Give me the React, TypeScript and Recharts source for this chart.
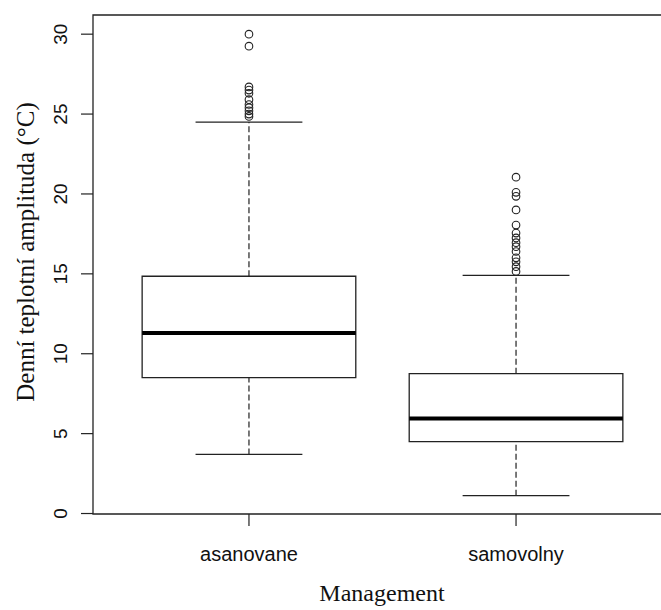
import { ComposedChart, XAxis, YAxis, Scatter, ReferenceArea, ReferenceLine } from "recharts";

const categories = ["asanovane", "samovolny"];
const lowerWhisker = [3.7, 1.12];
const q1 = [8.5, 4.5];
const median = [11.3, 5.95];
const q3 = [14.85, 8.75];
const upperWhisker = [24.5, 14.9];
const outliersAsanovane = [30.0, 29.25, 26.7, 26.5, 26.3, 25.9, 25.6, 25.4, 25.2, 25.0, 24.85];
const outliersSamovolny = [21.05, 20.1, 19.85, 19.0, 18.05, 17.55, 17.25, 16.95, 16.7, 16.4, 16.0, 15.75, 15.45, 15.15];
const yTicks = [0, 5, 10, 15, 20, 25, 30];

const INK = "#222";
const BOX_HALF = 0.4;
const CAP_HALF = 0.2;

const outlierGroups = [outliersAsanovane, outliersSamovolny];

const XTick = ({ x, y, payload }: any) => (
  <text x={x} y={y + 33} textAnchor="middle" fontFamily="'Liberation Sans', Arial, sans-serif" fontSize={20} fill="#111">
    {categories[payload.value - 1]}
  </text>
);

const YTick = ({ y, payload }: any) => (
  <text x={67} y={y} transform={`rotate(-90, 67, ${y})`} textAnchor="middle" fontFamily="'Liberation Sans', Arial, sans-serif" fontSize={19} fill="#111">
    {payload.value}
  </text>
);

const Ring = (p: any) => <circle cx={p.cx} cy={p.cy} r={3.8} fill="none" stroke={INK} strokeWidth={1.1} />;

export default function App() {
  return (
    <div style={{ position: "absolute", left: 0, top: 0, width: 661, height: 610, overflow: "hidden", background: "#fff" }}>
      <ComposedChart width={680} height={610} margin={{ top: 15, right: 8, left: 0, bottom: 0 }}>
        <XAxis type="number" dataKey="x" domain={[0.416, 2.584]} ticks={[1, 2]} allowDataOverflow
          axisLine={false} tickSize={12} tickLine={{ stroke: INK, strokeWidth: 1.2 }} tick={<XTick />} height={96} />
        <YAxis type="number" dataKey="y" domain={[-0.03, 31.2]} ticks={yTicks} allowDataOverflow
          axisLine={false} tickSize={12} tickLine={{ stroke: INK, strokeWidth: 1.2 }} tick={<YTick />} width={93} />

        {/* plot frame */}
        <ReferenceArea x1={0.416} x2={2.584} y1={-0.03} y2={31.2} ifOverflow="visible" fill="none" fillOpacity={0} stroke={INK} strokeWidth={1.3} />

        {categories.map((c, i) => {
          const pos = i + 1;
          return [
            <ReferenceLine key={c + "wl"} segment={[{ x: pos, y: lowerWhisker[i] }, { x: pos, y: q1[i] }]} stroke={INK} strokeWidth={1.2} strokeDasharray="6 3" />,
            <ReferenceLine key={c + "wu"} segment={[{ x: pos, y: q3[i] }, { x: pos, y: upperWhisker[i] }]} stroke={INK} strokeWidth={1.2} strokeDasharray="6 3" />,
            <ReferenceLine key={c + "cl"} segment={[{ x: pos - CAP_HALF, y: lowerWhisker[i] }, { x: pos + CAP_HALF, y: lowerWhisker[i] }]} stroke={INK} strokeWidth={1.2} />,
            <ReferenceLine key={c + "cu"} segment={[{ x: pos - CAP_HALF, y: upperWhisker[i] }, { x: pos + CAP_HALF, y: upperWhisker[i] }]} stroke={INK} strokeWidth={1.2} />,
            <ReferenceArea key={c + "box"} x1={pos - BOX_HALF} x2={pos + BOX_HALF} y1={q1[i]} y2={q3[i]} fill="none" fillOpacity={0} stroke={INK} strokeWidth={1.3} />,
            <ReferenceLine key={c + "med"} segment={[{ x: pos - BOX_HALF, y: median[i] }, { x: pos + BOX_HALF, y: median[i] }]} stroke="#000" strokeWidth={4} />,
          ];
        })}

        {outlierGroups.map((vals, i) => (
          <Scatter key={categories[i]} data={vals.map((v) => ({ x: i + 1, y: v }))} shape={<Ring />} isAnimationActive={false} />
        ))}

        <text x={34} y={252} transform="rotate(-90, 34, 252)" textAnchor="middle" fontFamily="'Liberation Serif', 'Times New Roman', serif" fontSize={25} fill="#111">
          Denní teplotní amplituda (°C)
        </text>
        <text x={382} y={601} textAnchor="middle" fontFamily="'Liberation Serif', 'Times New Roman', serif" fontSize={24} fill="#111">
          Management
        </text>
      </ComposedChart>
    </div>
  );
}
